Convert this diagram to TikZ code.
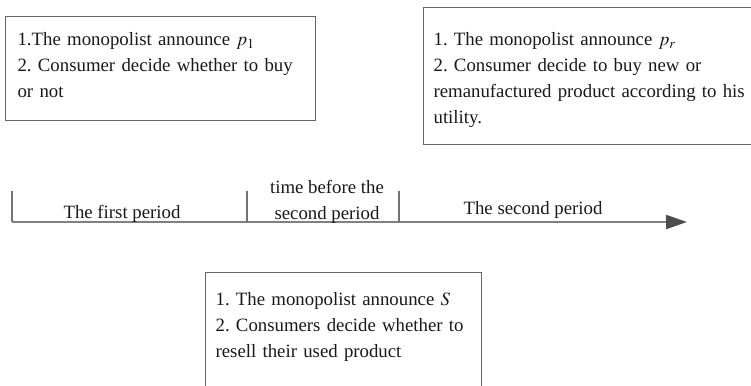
\documentclass[tikz,border=0pt]{standalone}
\usepackage{mathptmx}
\usepackage{fontspec}
\setmainfont{Liberation Serif}
\usepackage{tikz}
\usetikzlibrary{arrows.meta,positioning}
\frenchspacing

\begin{document}
\begin{tikzpicture}[
    x=0.5pt, y=-0.5pt,
    font=\fontsize{9.4pt}{13pt}\selectfont,
    stage/.style={rectangle, draw=black!60, line width=0.6pt, align=left, anchor=north west, inner xsep=5pt, inner ysep=0pt, text=black!90},
    tick/.style={draw=black!55, line width=0.7pt},
    timeline/.style={draw=black!50, line width=1pt, -{Triangle[length=10.5pt, width=7pt, color=black!70]}},
    period/.style={anchor=base, text=black!90}
]
    \useasboundingbox (0,0) rectangle (751,386);
    \clip (0,0) rectangle (751,386);

    % Stage boxes
    \node[stage, inner xsep=6pt, text width=143pt, text height=14.5pt, text depth=37.5pt] (first) at (5,16)
        {1.The monopolist announce $p_1$\\ 2. Consumer decide whether to buy\\ or not};
    \node[stage, text width=170pt, text height=19pt, text depth=49.5pt] (second) at (423,7)
        {1. The monopolist announce $p_r$\\ 2. Consumer decide to buy new or\\ remanufactured product according to his\\ utility.};
    \node[stage, inner xsep=5pt, text width=128pt, text height=16.5pt, text depth=60pt] (resale) at (205,272)
        {1. The monopolist announce $S$\\ 2. Consumers decide whether to\\ resell their used product};

    % Time axis
    \coordinate (t1) at (12,222);
    \coordinate (t2) at (247,222);
    \coordinate (t3) at (399,222);
    \coordinate (tend) at (687,222);
    \draw[timeline] (t1) -- (tend);
    \foreach \t in {t1,t2,t3}
        \draw[tick] (\t) -- ++(0,-31);

    % Period labels
    \node[period] (p1) at (122,218) {The first period};
    \node[period, align=center] (gap) at (327,219) {time before the\\ second period};
    \node[period] (p2) at (533,214) {The second period};
\end{tikzpicture}
\end{document}
